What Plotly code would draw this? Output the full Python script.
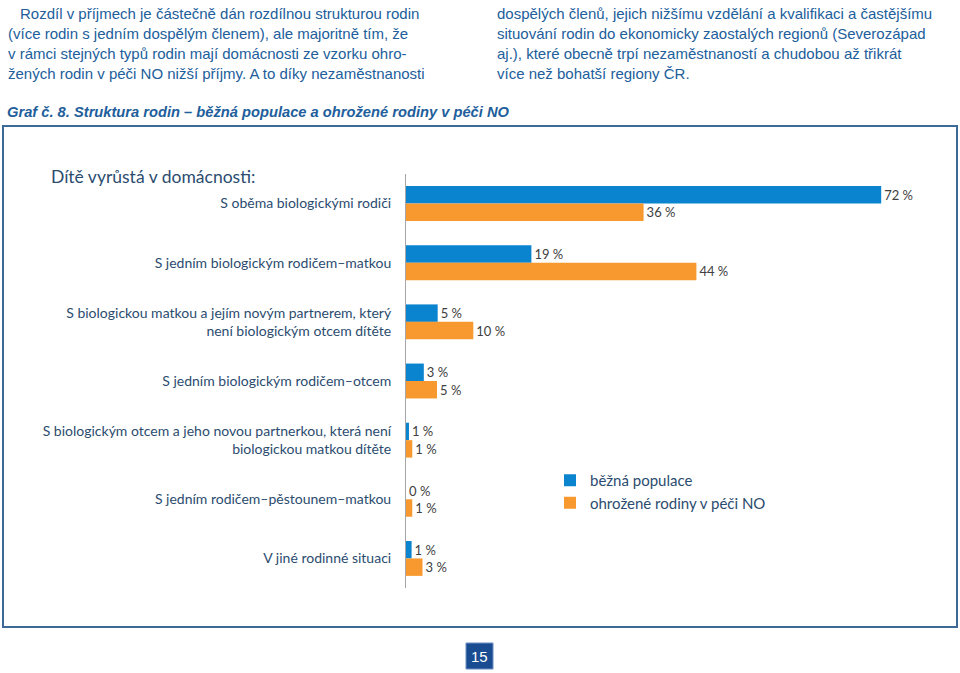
import plotly.graph_objects as go

# ---------------- data ----------------
categories = [
    "S oběma biologickými rodiči",
    "S jedním biologickým rodičem–matkou",
    "S biologickou matkou a jejím novým partnerem, který<br>není biologickým otcem dítěte",
    "S jedním biologickým rodičem–otcem",
    "S biologickým otcem a jeho novou partnerkou, která není<br>biologickou matkou dítěte",
    "S jedním rodičem–pěstounem–matkou",
    "V jiné rodinné situaci",
]
series_names = ["běžná populace", "ohrožené rodiny v péči NO"]
bezna_values = [72, 19, 4.8, 2.7, 0.45, 0.0, 0.85]
ohrozene_values = [36, 44, 10.2, 4.7, 0.95, 0.95, 2.5]
bezna_labels = ["72 %", "19 %", "5 %", "3 %", "1 %", "0 %", "1 %"]
ohrozene_labels = ["36 %", "44 %", "10 %", "5 %", "1 %", "1 %", "3 %"]

para_left = [
    "Rozdíl v příjmech je částečně dán rozdílnou strukturou rodin",
    "(více rodin s jedním dospělým členem), ale majoritně tím, že",
    "v rámci stejných typů rodin mají domácnosti ze vzorku ohro-",
    "žených rodin v péči NO nižší příjmy. A to díky nezaměstnanosti",
]
para_right = [
    "dospělých členů, jejich nižšímu vzdělání a kvalifikaci a častějšímu",
    "situování rodin do ekonomicky zaostalých regionů (Severozápad",
    "aj.), které obecně trpí nezaměstnaností a chudobou až třikrát",
    "více než bohatší regiony ČR.",
]
graph_title = "Graf č. 8. Struktura rodin – běžná populace a ohrožené rodiny v péči NO"
chart_heading = "Dítě vyrůstá v domácnosti:"
page_number = "15"

# ---------------- geometry helpers ----------------
W, H = 960, 673
# plot area in screen pixels
SL, SR, ST, SB = 406, 934, 174, 588
def px(x):  # screen x -> paper
    return (x - SL) / (SR - SL)
def py(y):  # screen y -> paper
    return (SB - y) / (SB - ST)

BLUE = "#0B84D0"
ORANGE = "#F7992F"
TXT = "#2B4C6F"
PAGE_BLUE = "#215E9B"

fig = go.Figure()
fig.add_trace(go.Bar(
    y=categories, x=bezna_values, orientation="h", name=series_names[0],
    marker=dict(color=BLUE, line=dict(width=0)),
    text=bezna_labels, textposition="outside", constraintext="none",
    textfont=dict(family="Lato", size=13, color="#404040"), cliponaxis=False,
))
fig.add_trace(go.Bar(
    y=categories, x=ohrozene_values, orientation="h", name=series_names[1],
    marker=dict(color=ORANGE, line=dict(width=0)),
    text=ohrozene_labels, textposition="outside", constraintext="none",
    textfont=dict(family="Lato", size=13, color="#404040"), cliponaxis=False,
))

annotations = []
for i, line in enumerate(para_left):
    annotations.append(dict(
        text=line, xref="paper", yref="paper",
        x=px(18 if i == 0 else 6), y=py(13 + 20 * i),
        xanchor="left", yanchor="middle", showarrow=False,
        font=dict(family="Liberation Sans", size=15, color=PAGE_BLUE),
    ))
for i, line in enumerate(para_right):
    annotations.append(dict(
        text=line, xref="paper", yref="paper",
        x=px(495), y=py(13 + 20 * i),
        xanchor="left", yanchor="middle", showarrow=False,
        font=dict(family="Liberation Sans", size=15, color=PAGE_BLUE),
    ))
annotations.append(dict(
    text="<b><i>" + graph_title + "</i></b>", xref="paper", yref="paper",
    x=px(5), y=py(112), xanchor="left", yanchor="middle", showarrow=False,
    font=dict(family="Liberation Sans", size=14.7, color=PAGE_BLUE),
))
annotations.append(dict(
    text=chart_heading, xref="paper", yref="paper",
    x=px(49), y=py(176), xanchor="left", yanchor="middle", showarrow=False,
    font=dict(family="Lato", size=17.5, color=TXT),
))
annotations.append(dict(
    text=page_number, xref="paper", yref="paper",
    x=px(479.5), y=py(656), xanchor="center", yanchor="middle", showarrow=False,
    font=dict(family="Liberation Sans", size=15, color="white"),
))

shapes = [
    dict(type="rect", xref="paper", yref="paper",
         x0=px(3), x1=px(957), y0=py(126), y1=py(627),
         line=dict(color="#3D6A99", width=2), fillcolor="rgba(0,0,0,0)", layer="below"),
    dict(type="rect", xref="paper", yref="paper",
         x0=px(466), x1=px(493), y0=py(643), y1=py(669),
         line=dict(color="#6A8FBF", width=1), fillcolor="#1A4C92", layer="below"),
]

fig.update_layout(
    width=W, height=H,
    margin=dict(l=SL, r=W - SR, t=ST, b=H - SB, pad=0),
    paper_bgcolor="white", plot_bgcolor="white",
    barmode="group", bargap=0.41, bargroupgap=0,
    showlegend=True,
    legend=dict(
        x=px(550), y=py(464), xanchor="left", yanchor="top",
        font=dict(family="Lato", size=15, color=TXT),
        traceorder="normal", bgcolor="rgba(0,0,0,0)", tracegroupgap=0,
        itemwidth=30,
    ),
    xaxis=dict(range=[0, 80], visible=False, fixedrange=True),
    yaxis=dict(
        type="category", autorange="reversed",
        showline=True, linecolor="#A6A6A6", linewidth=1,
        showgrid=False, ticks="", ticklabelstandoff=11,
        tickfont=dict(family="Lato", size=14, color=TXT),
    ),
    annotations=annotations, shapes=shapes,
)

fig.write_html("out.html", config={"displayModeBar": False},
               post_script="document.body.style.margin='0';")
